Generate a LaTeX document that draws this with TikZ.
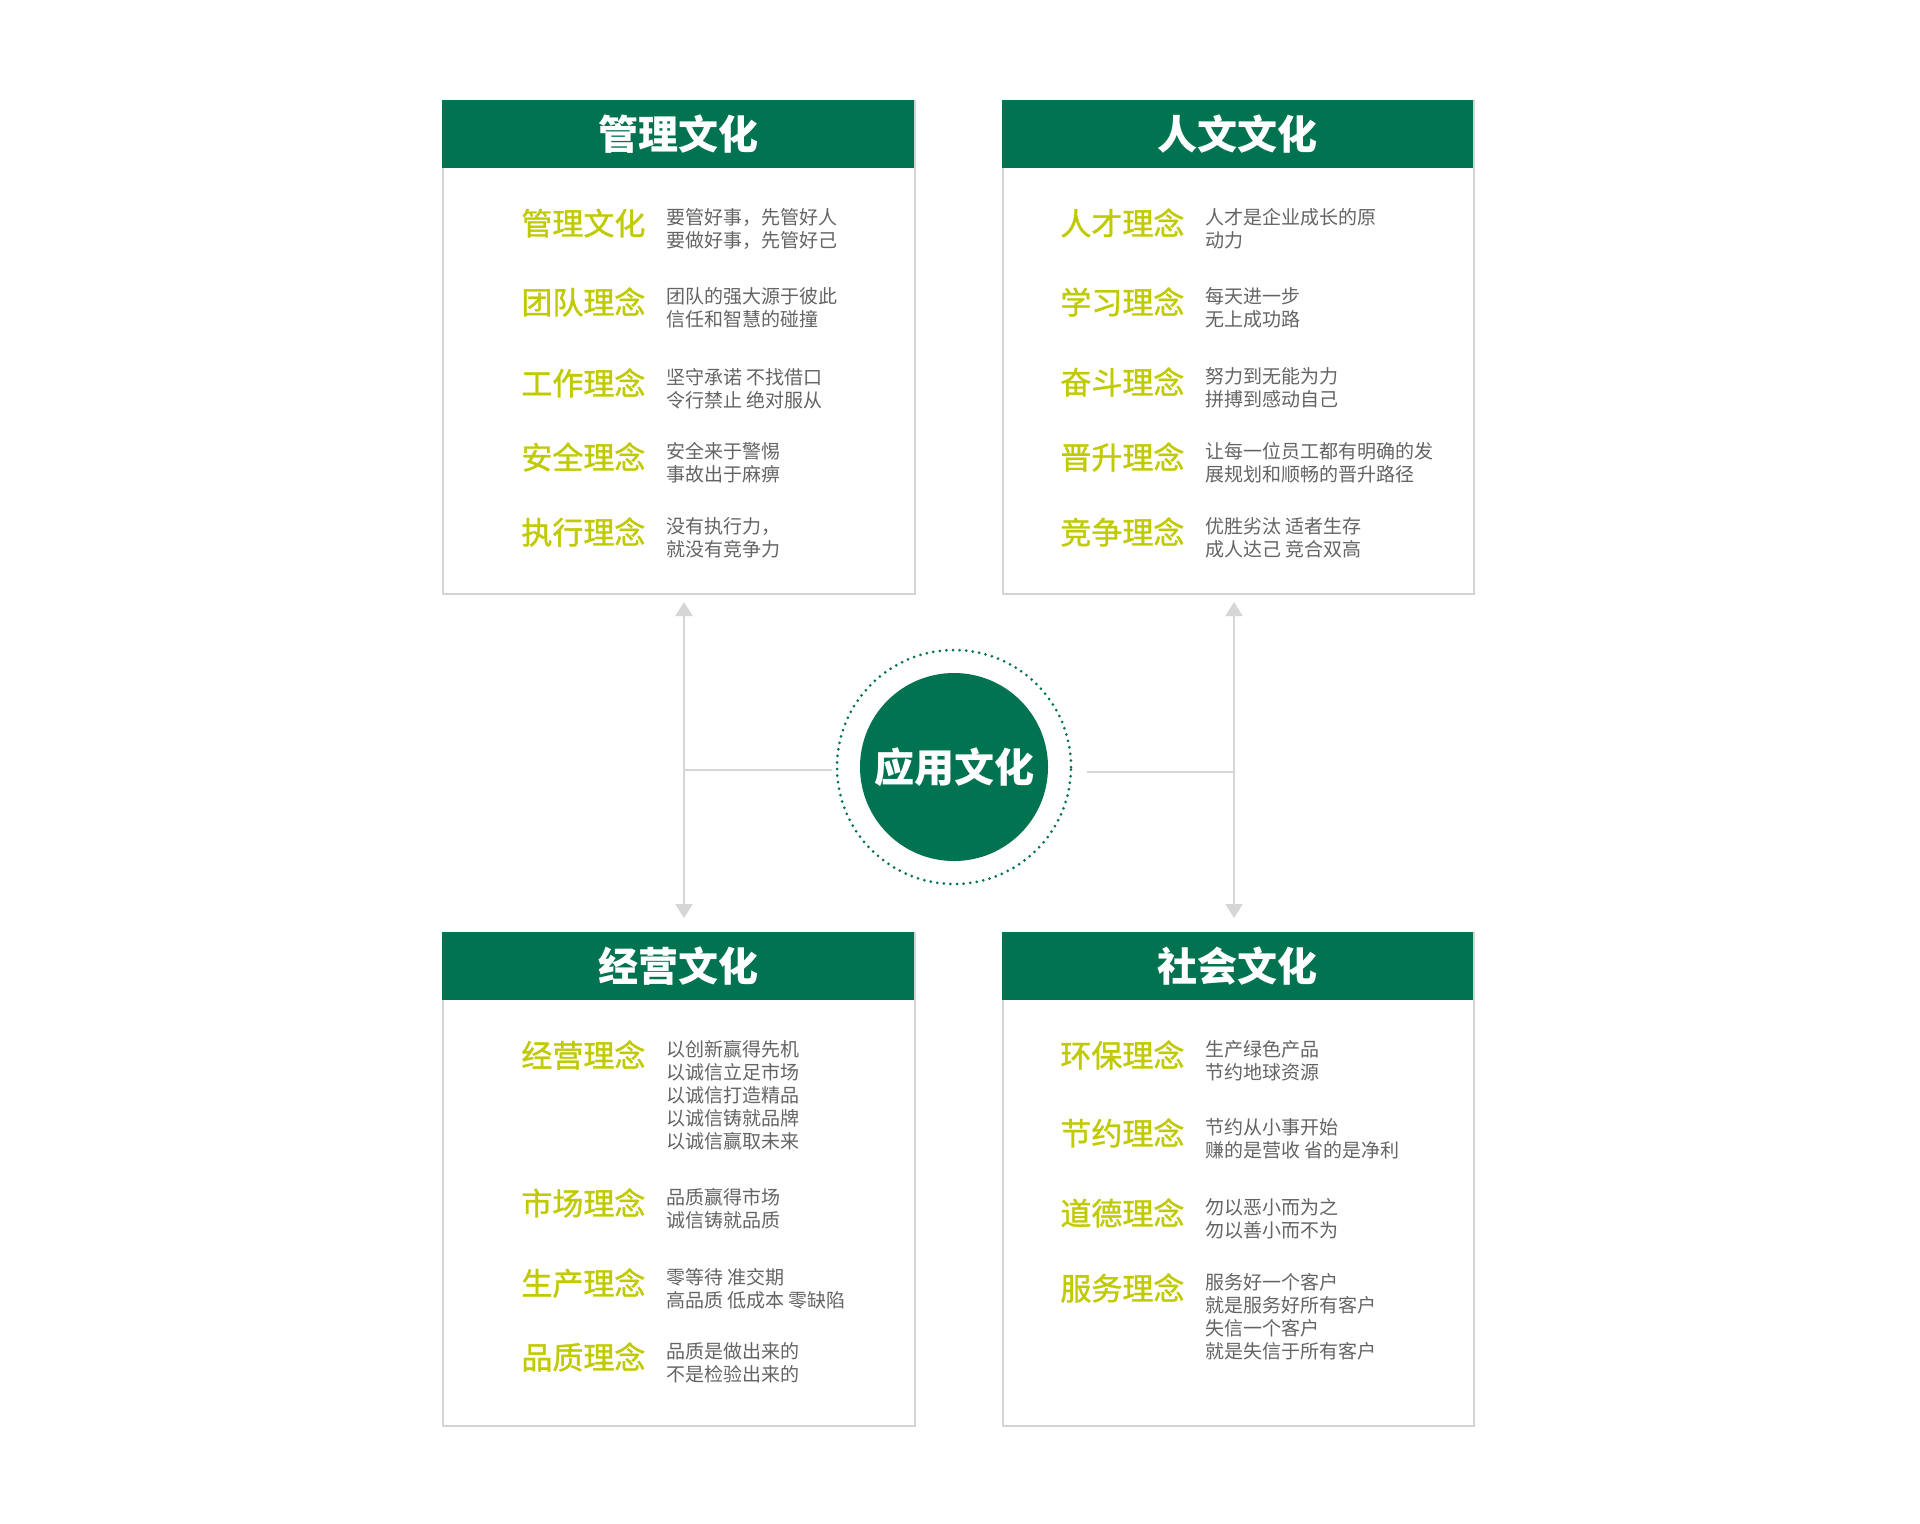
\documentclass[tikz,border=0pt]{standalone}
\usepackage{fontspec}
\newfontfamily\cjk{Noto Sans CJK SC}
\newfontfamily\cjklab[FakeBold=1.1]{Noto Sans CJK SC}
\usetikzlibrary{arrows.meta}
\definecolor{hgreen}{RGB}{2,115,80}
\definecolor{lgreen}{RGB}{192,202,0}
\definecolor{bgray}{RGB}{212,212,212}
\definecolor{agray}{RGB}{214,214,214}
\definecolor{tgray}{RGB}{100,100,100}
\tikzset{
 panel/.style={draw=bgray, line width=1pt, fill=white, anchor=north west, minimum width=236pt, minimum height=246.5pt, inner sep=0pt},
 hdr/.style={fill=hgreen, anchor=north west, minimum width=236pt, minimum height=34pt, inner sep=0pt, text=white, font=\cjk\bfseries\fontsize{20pt}{24pt}\selectfont},
 lab/.style={anchor=base west, inner sep=0pt, text=lgreen, font=\cjklab\fontsize{15.5pt}{18pt}\selectfont},
 desc/.style={anchor=base west, inner sep=0pt, text=tgray, font=\cjk\fontsize{9.5pt}{11.5pt}\selectfont},
 arr/.style={draw=agray, line width=1pt, {Triangle[width=8.5pt,length=7pt]}-{Triangle[width=8.5pt,length=7pt]}},
 link/.style={draw=agray, line width=1pt},
}
\newcommand{\dl}[1]{\parbox[t]{80mm}{\fontsize{9.5pt}{11.5pt}\selectfont #1}}
\begin{document}
\begin{tikzpicture}[x=0.5pt,y=-0.5pt]
\fill[white] (0,0) rectangle (1920,1523);
\useasboundingbox (0,0) rectangle (1920,1523);

% panels
\node[panel] (p1) at (442,100) {};
\node[panel, minimum width=235.5pt] (p2) at (1002,100) {};
\node[panel] (p3) at (442,932) {};
\node[panel, minimum width=235.5pt] (p4) at (1002,932) {};
\node[hdr] (h1) at (442,100) {管理文化};
\node[hdr, minimum width=235.5pt] (h2) at (1002,100) {人文文化};
\node[hdr] (h3) at (442,932) {经营文化};
\node[hdr, minimum width=235.5pt] (h4) at (1002,932) {社会文化};

% top-left items
\node[lab] (l11) at (521,235) {管理文化};
\node[desc] (d11) at (666,224) {\dl{要管好事，先管好人\\要做好事，先管好己}};
\node[lab] (l12) at (521,314) {团队理念};
\node[desc] (d12) at (666,303) {\dl{团队的强大源于彼此\\信任和智慧的碰撞}};
\node[lab] (l13) at (521,395) {工作理念};
\node[desc] (d13) at (666,384) {\dl{坚守承诺 不找借口\\令行禁止 绝对服从}};
\node[lab] (l14) at (521,469) {安全理念};
\node[desc] (d14) at (666,458) {\dl{安全来于警惕\\事故出于麻痹}};
\node[lab] (l15) at (521,544) {执行理念};
\node[desc] (d15) at (666,533) {\dl{没有执行力，\\就没有竞争力}};

% top-right items
\node[lab] (l21) at (1060,235) {人才理念};
\node[desc] (d21) at (1205,224) {\dl{人才是企业成长的原\\动力}};
\node[lab] (l22) at (1060,314) {学习理念};
\node[desc] (d22) at (1205,303) {\dl{每天进一步\\无上成功路}};
\node[lab] (l23) at (1060,394) {奋斗理念};
\node[desc] (d23) at (1205,383) {\dl{努力到无能为力\\拼搏到感动自己}};
\node[lab] (l24) at (1060,469) {晋升理念};
\node[desc] (d24) at (1205,458) {\dl{让每一位员工都有明确的发\\展规划和顺畅的晋升路径}};
\node[lab] (l25) at (1060,544) {竞争理念};
\node[desc] (d25) at (1205,533) {\dl{优胜劣汰 适者生存\\成人达己 竞合双高}};

% bottom-left items
\node[lab] (l31) at (521,1067) {经营理念};
\node[desc] (d31) at (666,1056) {\dl{以创新赢得先机\\以诚信立足市场\\以诚信打造精品\\以诚信铸就品牌\\以诚信赢取未来}};
\node[lab] (l32) at (521,1215) {市场理念};
\node[desc] (d32) at (666,1204) {\dl{品质赢得市场\\诚信铸就品质}};
\node[lab] (l33) at (521,1295) {生产理念};
\node[desc] (d33) at (666,1284) {\dl{零等待 准交期\\高品质 低成本 零缺陷}};
\node[lab] (l34) at (521,1369) {品质理念};
\node[desc] (d34) at (666,1358) {\dl{品质是做出来的\\不是检验出来的}};

% bottom-right items
\node[lab] (l41) at (1060,1067) {环保理念};
\node[desc] (d41) at (1205,1056) {\dl{生产绿色产品\\节约地球资源}};
\node[lab] (l42) at (1060,1145) {节约理念};
\node[desc] (d42) at (1205,1134) {\dl{节约从小事开始\\赚的是营收 省的是净利}};
\node[lab] (l43) at (1060,1225) {道德理念};
\node[desc] (d43) at (1205,1214) {\dl{勿以恶小而为之\\勿以善小而不为}};
\node[lab] (l44) at (1060,1300) {服务理念};
\node[desc] (d44) at (1205,1289) {\dl{服务好一个客户\\就是服务好所有客户\\失信一个客户\\就是失信于所有客户}};

% centre
\node[circle, draw=hgreen, line width=1.5pt, dash pattern=on 0pt off 3.3pt, line cap=round, minimum size=117pt, inner sep=0pt] (ring) at (954,767) {};
\node[circle, fill=hgreen, minimum size=94pt, inner sep=0pt, text=white, font=\cjk\bfseries\fontsize{20pt}{24pt}\selectfont] (core) at (954,767) {应用文化};

% connectors
\coordinate (lt) at (684,602);
\coordinate (lb) at (684,918);
\coordinate (lj) at (684,770);
\coordinate (lc) at (832,770);
\coordinate (rt) at (1234,602);
\coordinate (rb) at (1234,918);
\coordinate (rj) at (1234,772);
\coordinate (rc) at (1087,772);
\draw[arr] (lt) -- (lb);
\draw[arr] (rt) -- (rb);
\draw[link] (lj) -- (lc);
\draw[link] (rc) -- (rj);
\end{tikzpicture}
\end{document}
